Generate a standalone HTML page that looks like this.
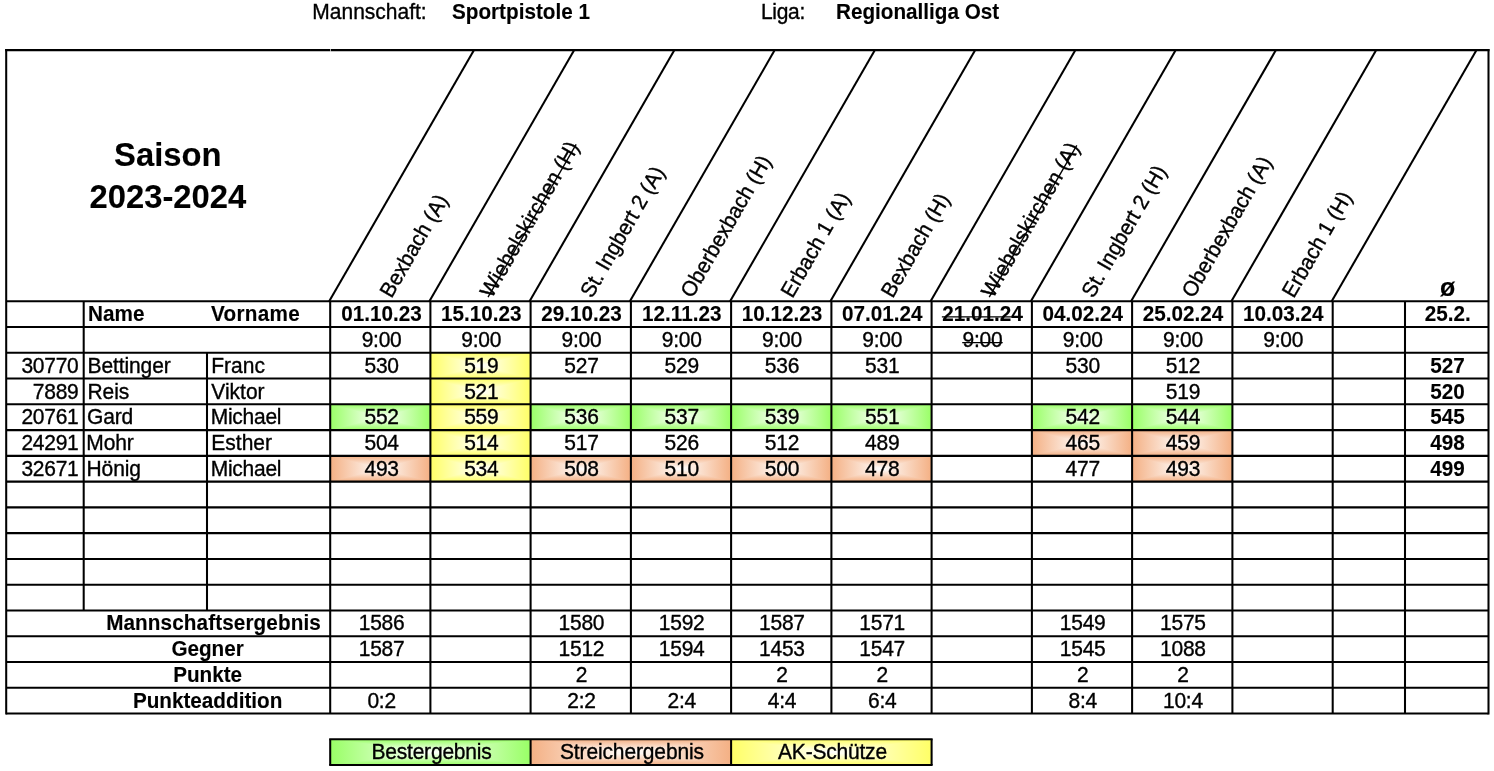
<!DOCTYPE html>
<html lang="de"><head><meta charset="utf-8"><title>Saison 2023-2024 – Sportpistole 1</title>
<style>
html,body{margin:0;padding:0;background:#fff;}
body{width:1494px;height:771px;overflow:hidden;}
svg{display:block;font-family:"Liberation Sans", Arial, sans-serif;fill:#000;will-change:transform;}
svg text{white-space:pre;}
</style></head><body>
<svg width="1494" height="771" viewBox="0 0 1494 771">
<defs>
<linearGradient id="gh" x1="0" y1="0" x2="1" y2="0"><stop offset="0" stop-color="#99ff66"/><stop offset="0.5" stop-color="#fff"/><stop offset="1" stop-color="#99ff66"/></linearGradient>
<linearGradient id="gt" x1="0" y1="0" x2="0" y2="1"><stop offset="0" stop-color="#99ff66"/><stop offset="1" stop-color="#fff"/></linearGradient>
<linearGradient id="gb" x1="0" y1="0" x2="0" y2="1"><stop offset="0" stop-color="#fff"/><stop offset="1" stop-color="#99ff66"/></linearGradient>
<linearGradient id="oh" x1="0" y1="0" x2="1" y2="0"><stop offset="0" stop-color="#f4b084"/><stop offset="0.5" stop-color="#fff"/><stop offset="1" stop-color="#f4b084"/></linearGradient>
<linearGradient id="ot" x1="0" y1="0" x2="0" y2="1"><stop offset="0" stop-color="#f4b084"/><stop offset="1" stop-color="#fff"/></linearGradient>
<linearGradient id="ob" x1="0" y1="0" x2="0" y2="1"><stop offset="0" stop-color="#fff"/><stop offset="1" stop-color="#f4b084"/></linearGradient>
<linearGradient id="yh" x1="0" y1="0" x2="1" y2="0"><stop offset="0" stop-color="#ffff66"/><stop offset="0.5" stop-color="#fff"/><stop offset="1" stop-color="#ffff66"/></linearGradient>
<linearGradient id="yt" x1="0" y1="0" x2="0" y2="1"><stop offset="0" stop-color="#ffff66"/><stop offset="1" stop-color="#fff"/></linearGradient>
<linearGradient id="yb" x1="0" y1="0" x2="0" y2="1"><stop offset="0" stop-color="#fff"/><stop offset="1" stop-color="#ffff66"/></linearGradient>
</defs>
<rect x="430.40" y="352.82" width="100.20" height="25.76" fill="url(#yh)"/>
<polygon points="430.40,352.82 480.50,365.70 530.60,352.82" fill="url(#yt)"/>
<polygon points="430.40,378.58 480.50,365.70 530.60,378.58" fill="url(#yb)"/>
<rect x="430.40" y="378.58" width="100.20" height="25.76" fill="url(#yh)"/>
<polygon points="430.40,378.58 480.50,391.46 530.60,378.58" fill="url(#yt)"/>
<polygon points="430.40,404.34 480.50,391.46 530.60,404.34" fill="url(#yb)"/>
<rect x="430.40" y="404.34" width="100.20" height="25.76" fill="url(#yh)"/>
<polygon points="430.40,404.34 480.50,417.22 530.60,404.34" fill="url(#yt)"/>
<polygon points="430.40,430.10 480.50,417.22 530.60,430.10" fill="url(#yb)"/>
<rect x="430.40" y="430.10" width="100.20" height="25.76" fill="url(#yh)"/>
<polygon points="430.40,430.10 480.50,442.98 530.60,430.10" fill="url(#yt)"/>
<polygon points="430.40,455.86 480.50,442.98 530.60,455.86" fill="url(#yb)"/>
<rect x="430.40" y="455.86" width="100.20" height="25.76" fill="url(#yh)"/>
<polygon points="430.40,455.86 480.50,468.74 530.60,455.86" fill="url(#yt)"/>
<polygon points="430.40,481.62 480.50,468.74 530.60,481.62" fill="url(#yb)"/>
<rect x="330.20" y="404.34" width="100.20" height="25.76" fill="url(#gh)"/>
<polygon points="330.20,404.34 380.30,417.22 430.40,404.34" fill="url(#gt)"/>
<polygon points="330.20,430.10 380.30,417.22 430.40,430.10" fill="url(#gb)"/>
<rect x="530.60" y="404.34" width="100.30" height="25.76" fill="url(#gh)"/>
<polygon points="530.60,404.34 580.75,417.22 630.90,404.34" fill="url(#gt)"/>
<polygon points="530.60,430.10 580.75,417.22 630.90,430.10" fill="url(#gb)"/>
<rect x="630.90" y="404.34" width="100.20" height="25.76" fill="url(#gh)"/>
<polygon points="630.90,404.34 681.00,417.22 731.10,404.34" fill="url(#gt)"/>
<polygon points="630.90,430.10 681.00,417.22 731.10,430.10" fill="url(#gb)"/>
<rect x="731.10" y="404.34" width="100.30" height="25.76" fill="url(#gh)"/>
<polygon points="731.10,404.34 781.25,417.22 831.40,404.34" fill="url(#gt)"/>
<polygon points="731.10,430.10 781.25,417.22 831.40,430.10" fill="url(#gb)"/>
<rect x="831.40" y="404.34" width="100.20" height="25.76" fill="url(#gh)"/>
<polygon points="831.40,404.34 881.50,417.22 931.60,404.34" fill="url(#gt)"/>
<polygon points="831.40,430.10 881.50,417.22 931.60,430.10" fill="url(#gb)"/>
<rect x="1031.90" y="404.34" width="100.20" height="25.76" fill="url(#gh)"/>
<polygon points="1031.90,404.34 1082.00,417.22 1132.10,404.34" fill="url(#gt)"/>
<polygon points="1031.90,430.10 1082.00,417.22 1132.10,430.10" fill="url(#gb)"/>
<rect x="1132.10" y="404.34" width="100.30" height="25.76" fill="url(#gh)"/>
<polygon points="1132.10,404.34 1182.25,417.22 1232.40,404.34" fill="url(#gt)"/>
<polygon points="1132.10,430.10 1182.25,417.22 1232.40,430.10" fill="url(#gb)"/>
<rect x="1031.90" y="430.10" width="100.20" height="25.76" fill="url(#oh)"/>
<polygon points="1031.90,430.10 1082.00,442.98 1132.10,430.10" fill="url(#ot)"/>
<polygon points="1031.90,455.86 1082.00,442.98 1132.10,455.86" fill="url(#ob)"/>
<rect x="1132.10" y="430.10" width="100.30" height="25.76" fill="url(#oh)"/>
<polygon points="1132.10,430.10 1182.25,442.98 1232.40,430.10" fill="url(#ot)"/>
<polygon points="1132.10,455.86 1182.25,442.98 1232.40,455.86" fill="url(#ob)"/>
<rect x="330.20" y="455.86" width="100.20" height="25.76" fill="url(#oh)"/>
<polygon points="330.20,455.86 380.30,468.74 430.40,455.86" fill="url(#ot)"/>
<polygon points="330.20,481.62 380.30,468.74 430.40,481.62" fill="url(#ob)"/>
<rect x="530.60" y="455.86" width="100.30" height="25.76" fill="url(#oh)"/>
<polygon points="530.60,455.86 580.75,468.74 630.90,455.86" fill="url(#ot)"/>
<polygon points="530.60,481.62 580.75,468.74 630.90,481.62" fill="url(#ob)"/>
<rect x="630.90" y="455.86" width="100.20" height="25.76" fill="url(#oh)"/>
<polygon points="630.90,455.86 681.00,468.74 731.10,455.86" fill="url(#ot)"/>
<polygon points="630.90,481.62 681.00,468.74 731.10,481.62" fill="url(#ob)"/>
<rect x="731.10" y="455.86" width="100.30" height="25.76" fill="url(#oh)"/>
<polygon points="731.10,455.86 781.25,468.74 831.40,455.86" fill="url(#ot)"/>
<polygon points="731.10,481.62 781.25,468.74 831.40,481.62" fill="url(#ob)"/>
<rect x="831.40" y="455.86" width="100.20" height="25.76" fill="url(#oh)"/>
<polygon points="831.40,455.86 881.50,468.74 931.60,455.86" fill="url(#ot)"/>
<polygon points="831.40,481.62 881.50,468.74 931.60,481.62" fill="url(#ob)"/>
<rect x="1132.10" y="455.86" width="100.30" height="25.76" fill="url(#oh)"/>
<polygon points="1132.10,455.86 1182.25,468.74 1232.40,455.86" fill="url(#ot)"/>
<polygon points="1132.10,481.62 1182.25,468.74 1232.40,481.62" fill="url(#ob)"/>
<rect x="330.20" y="739.22" width="200.40" height="25.76" fill="url(#gh)"/>
<polygon points="330.20,739.22 430.40,752.10 530.60,739.22" fill="url(#gt)"/>
<polygon points="330.20,764.98 430.40,752.10 530.60,764.98" fill="url(#gb)"/>
<rect x="530.60" y="739.22" width="200.50" height="25.76" fill="url(#oh)"/>
<polygon points="530.60,739.22 630.85,752.10 731.10,739.22" fill="url(#ot)"/>
<polygon points="530.60,764.98 630.85,752.10 731.10,764.98" fill="url(#ob)"/>
<rect x="731.10" y="739.22" width="200.50" height="25.76" fill="url(#yh)"/>
<polygon points="731.10,739.22 831.35,752.10 931.60,739.22" fill="url(#yt)"/>
<polygon points="731.10,764.98 831.35,752.10 931.60,764.98" fill="url(#yb)"/>
<line x1="6.20" y1="50.10" x2="1488.50" y2="50.10" stroke="#000" stroke-width="2.05" stroke-linecap="square"/>
<line x1="6.20" y1="50.10" x2="6.20" y2="713.46" stroke="#000" stroke-width="2.05" stroke-linecap="square"/>
<line x1="1488.50" y1="50.10" x2="1488.50" y2="713.46" stroke="#000" stroke-width="2.05" stroke-linecap="square"/>
<line x1="6.20" y1="301.30" x2="1488.50" y2="301.30" stroke="#000" stroke-width="2.05" stroke-linecap="butt"/>
<line x1="6.20" y1="327.06" x2="1488.50" y2="327.06" stroke="#000" stroke-width="2.05" stroke-linecap="butt"/>
<line x1="6.20" y1="352.82" x2="1488.50" y2="352.82" stroke="#000" stroke-width="2.05" stroke-linecap="butt"/>
<line x1="6.20" y1="378.58" x2="1488.50" y2="378.58" stroke="#000" stroke-width="2.05" stroke-linecap="butt"/>
<line x1="6.20" y1="404.34" x2="1488.50" y2="404.34" stroke="#000" stroke-width="2.05" stroke-linecap="butt"/>
<line x1="6.20" y1="430.10" x2="1488.50" y2="430.10" stroke="#000" stroke-width="2.05" stroke-linecap="butt"/>
<line x1="6.20" y1="455.86" x2="1488.50" y2="455.86" stroke="#000" stroke-width="2.05" stroke-linecap="butt"/>
<line x1="6.20" y1="481.62" x2="1488.50" y2="481.62" stroke="#000" stroke-width="2.05" stroke-linecap="butt"/>
<line x1="6.20" y1="507.38" x2="1488.50" y2="507.38" stroke="#000" stroke-width="2.05" stroke-linecap="butt"/>
<line x1="6.20" y1="533.14" x2="1488.50" y2="533.14" stroke="#000" stroke-width="2.05" stroke-linecap="butt"/>
<line x1="6.20" y1="558.90" x2="1488.50" y2="558.90" stroke="#000" stroke-width="2.05" stroke-linecap="butt"/>
<line x1="6.20" y1="584.66" x2="1488.50" y2="584.66" stroke="#000" stroke-width="2.05" stroke-linecap="butt"/>
<line x1="6.20" y1="610.42" x2="1488.50" y2="610.42" stroke="#000" stroke-width="2.05" stroke-linecap="butt"/>
<line x1="6.20" y1="636.18" x2="1488.50" y2="636.18" stroke="#000" stroke-width="2.05" stroke-linecap="butt"/>
<line x1="6.20" y1="661.94" x2="1488.50" y2="661.94" stroke="#000" stroke-width="2.05" stroke-linecap="butt"/>
<line x1="6.20" y1="687.70" x2="1488.50" y2="687.70" stroke="#000" stroke-width="2.05" stroke-linecap="butt"/>
<line x1="6.20" y1="713.46" x2="1488.50" y2="713.46" stroke="#000" stroke-width="2.05" stroke-linecap="butt"/>
<line x1="330.20" y1="301.30" x2="330.20" y2="713.46" stroke="#000" stroke-width="2.05" stroke-linecap="butt"/>
<line x1="430.40" y1="301.30" x2="430.40" y2="713.46" stroke="#000" stroke-width="2.05" stroke-linecap="butt"/>
<line x1="530.60" y1="301.30" x2="530.60" y2="713.46" stroke="#000" stroke-width="2.05" stroke-linecap="butt"/>
<line x1="630.90" y1="301.30" x2="630.90" y2="713.46" stroke="#000" stroke-width="2.05" stroke-linecap="butt"/>
<line x1="731.10" y1="301.30" x2="731.10" y2="713.46" stroke="#000" stroke-width="2.05" stroke-linecap="butt"/>
<line x1="831.40" y1="301.30" x2="831.40" y2="713.46" stroke="#000" stroke-width="2.05" stroke-linecap="butt"/>
<line x1="931.60" y1="301.30" x2="931.60" y2="713.46" stroke="#000" stroke-width="2.05" stroke-linecap="butt"/>
<line x1="1031.90" y1="301.30" x2="1031.90" y2="713.46" stroke="#000" stroke-width="2.05" stroke-linecap="butt"/>
<line x1="1132.10" y1="301.30" x2="1132.10" y2="713.46" stroke="#000" stroke-width="2.05" stroke-linecap="butt"/>
<line x1="1232.40" y1="301.30" x2="1232.40" y2="713.46" stroke="#000" stroke-width="2.05" stroke-linecap="butt"/>
<line x1="1332.70" y1="301.30" x2="1332.70" y2="713.46" stroke="#000" stroke-width="2.05" stroke-linecap="butt"/>
<line x1="1405.00" y1="301.30" x2="1405.00" y2="713.46" stroke="#000" stroke-width="2.05" stroke-linecap="butt"/>
<line x1="83.70" y1="301.30" x2="83.70" y2="610.42" stroke="#000" stroke-width="2.05" stroke-linecap="butt"/>
<line x1="207.00" y1="352.82" x2="207.00" y2="610.42" stroke="#000" stroke-width="2.05" stroke-linecap="butt"/>
<line x1="329.20" y1="301.30" x2="474.03" y2="50.10" stroke="#000" stroke-width="2.05"/>
<line x1="429.40" y1="301.30" x2="574.23" y2="50.10" stroke="#000" stroke-width="2.05"/>
<line x1="529.60" y1="301.30" x2="674.43" y2="50.10" stroke="#000" stroke-width="2.05"/>
<line x1="629.90" y1="301.30" x2="774.73" y2="50.10" stroke="#000" stroke-width="2.05"/>
<line x1="730.10" y1="301.30" x2="874.93" y2="50.10" stroke="#000" stroke-width="2.05"/>
<line x1="830.40" y1="301.30" x2="975.23" y2="50.10" stroke="#000" stroke-width="2.05"/>
<line x1="930.60" y1="301.30" x2="1075.43" y2="50.10" stroke="#000" stroke-width="2.05"/>
<line x1="1030.90" y1="301.30" x2="1175.73" y2="50.10" stroke="#000" stroke-width="2.05"/>
<line x1="1131.10" y1="301.30" x2="1275.93" y2="50.10" stroke="#000" stroke-width="2.05"/>
<line x1="1231.40" y1="301.30" x2="1376.23" y2="50.10" stroke="#000" stroke-width="2.05"/>
<line x1="1331.70" y1="301.30" x2="1476.53" y2="50.10" stroke="#000" stroke-width="2.05"/>
<line x1="330.20" y1="739.22" x2="931.60" y2="739.22" stroke="#000" stroke-width="2.05" stroke-linecap="square"/>
<line x1="330.20" y1="764.98" x2="931.60" y2="764.98" stroke="#000" stroke-width="2.05" stroke-linecap="square"/>
<line x1="330.20" y1="739.22" x2="330.20" y2="764.98" stroke="#000" stroke-width="2.05" stroke-linecap="butt"/>
<line x1="530.60" y1="739.22" x2="530.60" y2="764.98" stroke="#000" stroke-width="2.05" stroke-linecap="butt"/>
<line x1="731.10" y1="739.22" x2="731.10" y2="764.98" stroke="#000" stroke-width="2.05" stroke-linecap="butt"/>
<line x1="931.60" y1="739.22" x2="931.60" y2="764.98" stroke="#000" stroke-width="2.05" stroke-linecap="butt"/>
<rect x="330.1" y="48.5" width="0.8" height="3.2" fill="#fff" opacity="0.85"/>
<text text-anchor="start" style="font-size:21px;stroke:#000;stroke-width:0.35px;" transform="translate(312.30 18.80) scale(1 1.035)">Mannschaft:</text>
<text text-anchor="start" style="font-size:20.7px;font-weight:bold;stroke:#000;stroke-width:0.12px;" transform="translate(452.00 18.80) scale(1 1.035)">Sportpistole 1</text>
<text text-anchor="start" style="font-size:21px;letter-spacing:-0.3px;stroke:#000;stroke-width:0.35px;" transform="translate(761.00 18.80) scale(1 1.035)">Liga:</text>
<text text-anchor="start" style="font-size:20.7px;font-weight:bold;stroke:#000;stroke-width:0.12px;" transform="translate(836.00 18.80) scale(1 1.035)">Regionalliga Ost</text>
<text text-anchor="middle" style="font-size:32.8px;font-weight:bold;stroke:#000;stroke-width:0.12px;" transform="translate(167.80 165.90) scale(1 1.035)">Saison</text>
<text text-anchor="middle" style="font-size:32.8px;font-weight:bold;stroke:#000;stroke-width:0.12px;" transform="translate(167.90 207.70) scale(1 1.035)">2023-2024</text>
<text text-anchor="start" style="font-size:20.8px;stroke:#000;stroke-width:0.35px;" transform="translate(391.60 298.90) rotate(-60) scale(1 1.035)">Bexbach (A)</text>
<g transform="translate(491.80 298.90) rotate(-60)"><text text-anchor="start" style="font-size:20.8px;stroke:#000;stroke-width:0.35px;" transform="scale(1 1.035)">Wiebelskirchen (H)</text><line x1="-0.30" y1="-4.2" x2="175.99" y2="-4.2" stroke="#000" stroke-width="1.35"/></g>
<text text-anchor="start" style="font-size:20.8px;stroke:#000;stroke-width:0.35px;" transform="translate(592.00 298.90) rotate(-60) scale(1 1.035)">St. Ingbert 2 (A)</text>
<text text-anchor="start" style="font-size:20.8px;stroke:#000;stroke-width:0.35px;" transform="translate(692.30 298.90) rotate(-60) scale(1 1.035)">Oberbexbach (H)</text>
<text text-anchor="start" style="font-size:20.8px;stroke:#000;stroke-width:0.35px;" transform="translate(792.50 298.90) rotate(-60) scale(1 1.035)">Erbach 1 (A)</text>
<text text-anchor="start" style="font-size:20.8px;stroke:#000;stroke-width:0.35px;" transform="translate(892.80 298.90) rotate(-60) scale(1 1.035)">Bexbach (H)</text>
<g transform="translate(993.00 298.90) rotate(-60)"><text text-anchor="start" style="font-size:20.8px;stroke:#000;stroke-width:0.35px;" transform="scale(1 1.035)">Wiebelskirchen (A)</text><line x1="-0.30" y1="-4.2" x2="174.84" y2="-4.2" stroke="#000" stroke-width="1.35"/></g>
<text text-anchor="start" style="font-size:20.8px;stroke:#000;stroke-width:0.35px;" transform="translate(1093.30 298.90) rotate(-60) scale(1 1.035)">St. Ingbert 2 (H)</text>
<text text-anchor="start" style="font-size:20.8px;stroke:#000;stroke-width:0.35px;" transform="translate(1193.50 298.90) rotate(-60) scale(1 1.035)">Oberbexbach (A)</text>
<text text-anchor="start" style="font-size:20.8px;stroke:#000;stroke-width:0.35px;" transform="translate(1293.80 298.90) rotate(-60) scale(1 1.035)">Erbach 1 (H)</text>
<text text-anchor="middle" style="font-size:25px;font-weight:bold;stroke:#000;stroke-width:0.12px;" transform="translate(1447.75 295.60) scale(1 1.035)">ø</text>
<text text-anchor="start" style="font-size:20.7px;font-weight:bold;letter-spacing:0.1px;stroke:#000;stroke-width:0.12px;" transform="translate(87.90 321.06) scale(1 1.035)">Name</text>
<text text-anchor="start" style="font-size:20.7px;font-weight:bold;letter-spacing:0.3px;stroke:#000;stroke-width:0.12px;" transform="translate(211.00 321.06) scale(1 1.035)">Vorname</text>
<text text-anchor="middle" style="font-size:20.7px;font-weight:bold;stroke:#000;stroke-width:0.12px;" transform="translate(381.60 321.06) scale(1 1.035)">01.10.23</text>
<text text-anchor="middle" style="font-size:21px;letter-spacing:-0.25px;stroke:#000;stroke-width:0.35px;" transform="translate(381.60 346.82) scale(1 1.035)">9:00</text>
<text text-anchor="middle" style="font-size:20.7px;font-weight:bold;stroke:#000;stroke-width:0.12px;" transform="translate(481.30 321.06) scale(1 1.035)">15.10.23</text>
<text text-anchor="middle" style="font-size:21px;letter-spacing:-0.25px;stroke:#000;stroke-width:0.35px;" transform="translate(481.30 346.82) scale(1 1.035)">9:00</text>
<text text-anchor="middle" style="font-size:20.7px;font-weight:bold;stroke:#000;stroke-width:0.12px;" transform="translate(581.45 321.06) scale(1 1.035)">29.10.23</text>
<text text-anchor="middle" style="font-size:21px;letter-spacing:-0.25px;stroke:#000;stroke-width:0.35px;" transform="translate(581.45 346.82) scale(1 1.035)">9:00</text>
<text text-anchor="middle" style="font-size:20.7px;font-weight:bold;stroke:#000;stroke-width:0.12px;" transform="translate(681.70 321.06) scale(1 1.035)">12.11.23</text>
<text text-anchor="middle" style="font-size:21px;letter-spacing:-0.25px;stroke:#000;stroke-width:0.35px;" transform="translate(681.70 346.82) scale(1 1.035)">9:00</text>
<text text-anchor="middle" style="font-size:20.7px;font-weight:bold;stroke:#000;stroke-width:0.12px;" transform="translate(781.95 321.06) scale(1 1.035)">10.12.23</text>
<text text-anchor="middle" style="font-size:21px;letter-spacing:-0.25px;stroke:#000;stroke-width:0.35px;" transform="translate(781.95 346.82) scale(1 1.035)">9:00</text>
<text text-anchor="middle" style="font-size:20.7px;font-weight:bold;stroke:#000;stroke-width:0.12px;" transform="translate(882.20 321.06) scale(1 1.035)">07.01.24</text>
<text text-anchor="middle" style="font-size:21px;letter-spacing:-0.25px;stroke:#000;stroke-width:0.35px;" transform="translate(882.20 346.82) scale(1 1.035)">9:00</text>
<g transform="translate(982.45 321.06)"><text text-anchor="middle" style="font-size:20.7px;font-weight:bold;stroke:#000;stroke-width:0.12px;" transform="scale(1 1.035)">21.01.24</text><line x1="-40.59" y1="-4.2" x2="40.59" y2="-4.2" stroke="#000" stroke-width="1.15"/></g>
<g transform="translate(982.45 346.82)"><text text-anchor="middle" style="font-size:21px;letter-spacing:-0.25px;stroke:#000;stroke-width:0.35px;" transform="scale(1 1.035)">9:00</text><line x1="-20.24" y1="-4.2" x2="20.24" y2="-4.2" stroke="#000" stroke-width="1.15"/></g>
<text text-anchor="middle" style="font-size:20.7px;font-weight:bold;stroke:#000;stroke-width:0.12px;" transform="translate(1082.70 321.06) scale(1 1.035)">04.02.24</text>
<text text-anchor="middle" style="font-size:21px;letter-spacing:-0.25px;stroke:#000;stroke-width:0.35px;" transform="translate(1082.70 346.82) scale(1 1.035)">9:00</text>
<text text-anchor="middle" style="font-size:20.7px;font-weight:bold;stroke:#000;stroke-width:0.12px;" transform="translate(1182.95 321.06) scale(1 1.035)">25.02.24</text>
<text text-anchor="middle" style="font-size:21px;letter-spacing:-0.25px;stroke:#000;stroke-width:0.35px;" transform="translate(1182.95 346.82) scale(1 1.035)">9:00</text>
<text text-anchor="middle" style="font-size:20.7px;font-weight:bold;stroke:#000;stroke-width:0.12px;" transform="translate(1283.25 321.06) scale(1 1.035)">10.03.24</text>
<text text-anchor="middle" style="font-size:21px;letter-spacing:-0.25px;stroke:#000;stroke-width:0.35px;" transform="translate(1283.25 346.82) scale(1 1.035)">9:00</text>
<text text-anchor="middle" style="font-size:20.7px;font-weight:bold;stroke:#000;stroke-width:0.12px;" transform="translate(1447.65 321.06) scale(1 1.035)">25.2.</text>
<text text-anchor="end" style="font-size:21px;letter-spacing:-0.25px;stroke:#000;stroke-width:0.35px;" transform="translate(78.50 372.58) scale(1 1.035)">30770</text>
<text text-anchor="start" style="font-size:21px;letter-spacing:-0.1px;stroke:#000;stroke-width:0.35px;" transform="translate(87.50 372.58) scale(1 1.035)">Bettinger</text>
<text text-anchor="start" style="font-size:21px;stroke:#000;stroke-width:0.35px;" transform="translate(211.30 372.58) scale(1 1.035)">Franc</text>
<text text-anchor="middle" style="font-size:21px;letter-spacing:-0.25px;stroke:#000;stroke-width:0.35px;" transform="translate(381.60 372.58) scale(1 1.035)">530</text>
<text text-anchor="middle" style="font-size:21px;letter-spacing:-0.25px;stroke:#000;stroke-width:0.35px;" transform="translate(481.30 372.58) scale(1 1.035)">519</text>
<text text-anchor="middle" style="font-size:21px;letter-spacing:-0.25px;stroke:#000;stroke-width:0.35px;" transform="translate(581.45 372.58) scale(1 1.035)">527</text>
<text text-anchor="middle" style="font-size:21px;letter-spacing:-0.25px;stroke:#000;stroke-width:0.35px;" transform="translate(681.70 372.58) scale(1 1.035)">529</text>
<text text-anchor="middle" style="font-size:21px;letter-spacing:-0.25px;stroke:#000;stroke-width:0.35px;" transform="translate(781.95 372.58) scale(1 1.035)">536</text>
<text text-anchor="middle" style="font-size:21px;letter-spacing:-0.25px;stroke:#000;stroke-width:0.35px;" transform="translate(882.20 372.58) scale(1 1.035)">531</text>
<text text-anchor="middle" style="font-size:21px;letter-spacing:-0.25px;stroke:#000;stroke-width:0.35px;" transform="translate(1082.70 372.58) scale(1 1.035)">530</text>
<text text-anchor="middle" style="font-size:21px;letter-spacing:-0.25px;stroke:#000;stroke-width:0.35px;" transform="translate(1182.95 372.58) scale(1 1.035)">512</text>
<text text-anchor="middle" style="font-size:20.7px;font-weight:bold;stroke:#000;stroke-width:0.12px;" transform="translate(1447.55 372.58) scale(1 1.035)">527</text>
<text text-anchor="end" style="font-size:21px;letter-spacing:-0.25px;stroke:#000;stroke-width:0.35px;" transform="translate(78.50 398.94) scale(1 1.035)">7889</text>
<text text-anchor="start" style="font-size:21px;letter-spacing:-0.1px;stroke:#000;stroke-width:0.35px;" transform="translate(87.50 398.94) scale(1 1.035)">Reis</text>
<text text-anchor="start" style="font-size:21px;stroke:#000;stroke-width:0.35px;" transform="translate(211.30 398.94) scale(1 1.035)">Viktor</text>
<text text-anchor="middle" style="font-size:21px;letter-spacing:-0.25px;stroke:#000;stroke-width:0.35px;" transform="translate(481.30 398.94) scale(1 1.035)">521</text>
<text text-anchor="middle" style="font-size:21px;letter-spacing:-0.25px;stroke:#000;stroke-width:0.35px;" transform="translate(1182.95 398.94) scale(1 1.035)">519</text>
<text text-anchor="middle" style="font-size:20.7px;font-weight:bold;stroke:#000;stroke-width:0.12px;" transform="translate(1447.55 398.94) scale(1 1.035)">520</text>
<text text-anchor="end" style="font-size:21px;letter-spacing:-0.25px;stroke:#000;stroke-width:0.35px;" transform="translate(78.50 424.10) scale(1 1.035)">20761</text>
<text text-anchor="start" style="font-size:21px;letter-spacing:-0.1px;stroke:#000;stroke-width:0.35px;" transform="translate(86.90 424.10) scale(1 1.035)">Gard</text>
<text text-anchor="start" style="font-size:21px;letter-spacing:-0.25px;stroke:#000;stroke-width:0.35px;" transform="translate(210.70 424.10) scale(1 1.035)">Michael</text>
<text text-anchor="middle" style="font-size:21px;letter-spacing:-0.25px;stroke:#000;stroke-width:0.35px;" transform="translate(381.60 424.10) scale(1 1.035)">552</text>
<text text-anchor="middle" style="font-size:21px;letter-spacing:-0.25px;stroke:#000;stroke-width:0.35px;" transform="translate(481.30 424.10) scale(1 1.035)">559</text>
<text text-anchor="middle" style="font-size:21px;letter-spacing:-0.25px;stroke:#000;stroke-width:0.35px;" transform="translate(581.45 424.10) scale(1 1.035)">536</text>
<text text-anchor="middle" style="font-size:21px;letter-spacing:-0.25px;stroke:#000;stroke-width:0.35px;" transform="translate(681.70 424.10) scale(1 1.035)">537</text>
<text text-anchor="middle" style="font-size:21px;letter-spacing:-0.25px;stroke:#000;stroke-width:0.35px;" transform="translate(781.95 424.10) scale(1 1.035)">539</text>
<text text-anchor="middle" style="font-size:21px;letter-spacing:-0.25px;stroke:#000;stroke-width:0.35px;" transform="translate(882.20 424.10) scale(1 1.035)">551</text>
<text text-anchor="middle" style="font-size:21px;letter-spacing:-0.25px;stroke:#000;stroke-width:0.35px;" transform="translate(1082.70 424.10) scale(1 1.035)">542</text>
<text text-anchor="middle" style="font-size:21px;letter-spacing:-0.25px;stroke:#000;stroke-width:0.35px;" transform="translate(1182.95 424.10) scale(1 1.035)">544</text>
<text text-anchor="middle" style="font-size:20.7px;font-weight:bold;stroke:#000;stroke-width:0.12px;" transform="translate(1447.55 424.10) scale(1 1.035)">545</text>
<text text-anchor="end" style="font-size:21px;letter-spacing:-0.25px;stroke:#000;stroke-width:0.35px;" transform="translate(78.50 449.86) scale(1 1.035)">24291</text>
<text text-anchor="start" style="font-size:21px;letter-spacing:-0.1px;stroke:#000;stroke-width:0.35px;" transform="translate(86.30 449.86) scale(1 1.035)">Mohr</text>
<text text-anchor="start" style="font-size:21px;stroke:#000;stroke-width:0.35px;" transform="translate(211.30 449.86) scale(1 1.035)">Esther</text>
<text text-anchor="middle" style="font-size:21px;letter-spacing:-0.25px;stroke:#000;stroke-width:0.35px;" transform="translate(381.60 449.86) scale(1 1.035)">504</text>
<text text-anchor="middle" style="font-size:21px;letter-spacing:-0.25px;stroke:#000;stroke-width:0.35px;" transform="translate(481.30 449.86) scale(1 1.035)">514</text>
<text text-anchor="middle" style="font-size:21px;letter-spacing:-0.25px;stroke:#000;stroke-width:0.35px;" transform="translate(581.45 449.86) scale(1 1.035)">517</text>
<text text-anchor="middle" style="font-size:21px;letter-spacing:-0.25px;stroke:#000;stroke-width:0.35px;" transform="translate(681.70 449.86) scale(1 1.035)">526</text>
<text text-anchor="middle" style="font-size:21px;letter-spacing:-0.25px;stroke:#000;stroke-width:0.35px;" transform="translate(781.95 449.86) scale(1 1.035)">512</text>
<text text-anchor="middle" style="font-size:21px;letter-spacing:-0.25px;stroke:#000;stroke-width:0.35px;" transform="translate(882.20 449.86) scale(1 1.035)">489</text>
<text text-anchor="middle" style="font-size:21px;letter-spacing:-0.25px;stroke:#000;stroke-width:0.35px;" transform="translate(1082.70 449.86) scale(1 1.035)">465</text>
<text text-anchor="middle" style="font-size:21px;letter-spacing:-0.25px;stroke:#000;stroke-width:0.35px;" transform="translate(1182.95 449.86) scale(1 1.035)">459</text>
<text text-anchor="middle" style="font-size:20.7px;font-weight:bold;stroke:#000;stroke-width:0.12px;" transform="translate(1447.55 449.86) scale(1 1.035)">498</text>
<text text-anchor="end" style="font-size:21px;letter-spacing:-0.25px;stroke:#000;stroke-width:0.35px;" transform="translate(78.50 475.62) scale(1 1.035)">32671</text>
<text text-anchor="start" style="font-size:21px;letter-spacing:-0.1px;stroke:#000;stroke-width:0.35px;" transform="translate(86.50 475.62) scale(1 1.035)">Hönig</text>
<text text-anchor="start" style="font-size:21px;letter-spacing:-0.25px;stroke:#000;stroke-width:0.35px;" transform="translate(210.70 475.62) scale(1 1.035)">Michael</text>
<text text-anchor="middle" style="font-size:21px;letter-spacing:-0.25px;stroke:#000;stroke-width:0.35px;" transform="translate(381.60 475.62) scale(1 1.035)">493</text>
<text text-anchor="middle" style="font-size:21px;letter-spacing:-0.25px;stroke:#000;stroke-width:0.35px;" transform="translate(481.30 475.62) scale(1 1.035)">534</text>
<text text-anchor="middle" style="font-size:21px;letter-spacing:-0.25px;stroke:#000;stroke-width:0.35px;" transform="translate(581.45 475.62) scale(1 1.035)">508</text>
<text text-anchor="middle" style="font-size:21px;letter-spacing:-0.25px;stroke:#000;stroke-width:0.35px;" transform="translate(681.70 475.62) scale(1 1.035)">510</text>
<text text-anchor="middle" style="font-size:21px;letter-spacing:-0.25px;stroke:#000;stroke-width:0.35px;" transform="translate(781.95 475.62) scale(1 1.035)">500</text>
<text text-anchor="middle" style="font-size:21px;letter-spacing:-0.25px;stroke:#000;stroke-width:0.35px;" transform="translate(882.20 475.62) scale(1 1.035)">478</text>
<text text-anchor="middle" style="font-size:21px;letter-spacing:-0.25px;stroke:#000;stroke-width:0.35px;" transform="translate(1082.70 475.62) scale(1 1.035)">477</text>
<text text-anchor="middle" style="font-size:21px;letter-spacing:-0.25px;stroke:#000;stroke-width:0.35px;" transform="translate(1182.95 475.62) scale(1 1.035)">493</text>
<text text-anchor="middle" style="font-size:20.7px;font-weight:bold;stroke:#000;stroke-width:0.12px;" transform="translate(1447.55 475.62) scale(1 1.035)">499</text>
<text text-anchor="middle" style="font-size:20.7px;font-weight:bold;letter-spacing:0.11px;stroke:#000;stroke-width:0.12px;" transform="translate(213.50 630.18) scale(1 1.035)">Mannschaftsergebnis</text>
<text text-anchor="middle" style="font-size:21px;letter-spacing:-0.25px;stroke:#000;stroke-width:0.35px;" transform="translate(381.60 630.18) scale(1 1.035)">1586</text>
<text text-anchor="middle" style="font-size:21px;letter-spacing:-0.25px;stroke:#000;stroke-width:0.35px;" transform="translate(581.45 630.18) scale(1 1.035)">1580</text>
<text text-anchor="middle" style="font-size:21px;letter-spacing:-0.25px;stroke:#000;stroke-width:0.35px;" transform="translate(681.70 630.18) scale(1 1.035)">1592</text>
<text text-anchor="middle" style="font-size:21px;letter-spacing:-0.25px;stroke:#000;stroke-width:0.35px;" transform="translate(781.95 630.18) scale(1 1.035)">1587</text>
<text text-anchor="middle" style="font-size:21px;letter-spacing:-0.25px;stroke:#000;stroke-width:0.35px;" transform="translate(882.20 630.18) scale(1 1.035)">1571</text>
<text text-anchor="middle" style="font-size:21px;letter-spacing:-0.25px;stroke:#000;stroke-width:0.35px;" transform="translate(1082.70 630.18) scale(1 1.035)">1549</text>
<text text-anchor="middle" style="font-size:21px;letter-spacing:-0.25px;stroke:#000;stroke-width:0.35px;" transform="translate(1182.95 630.18) scale(1 1.035)">1575</text>
<text text-anchor="middle" style="font-size:20.7px;font-weight:bold;stroke:#000;stroke-width:0.12px;" transform="translate(207.60 655.94) scale(1 1.035)">Gegner</text>
<text text-anchor="middle" style="font-size:21px;letter-spacing:-0.25px;stroke:#000;stroke-width:0.35px;" transform="translate(381.60 655.94) scale(1 1.035)">1587</text>
<text text-anchor="middle" style="font-size:21px;letter-spacing:-0.25px;stroke:#000;stroke-width:0.35px;" transform="translate(581.45 655.94) scale(1 1.035)">1512</text>
<text text-anchor="middle" style="font-size:21px;letter-spacing:-0.25px;stroke:#000;stroke-width:0.35px;" transform="translate(681.70 655.94) scale(1 1.035)">1594</text>
<text text-anchor="middle" style="font-size:21px;letter-spacing:-0.25px;stroke:#000;stroke-width:0.35px;" transform="translate(781.95 655.94) scale(1 1.035)">1453</text>
<text text-anchor="middle" style="font-size:21px;letter-spacing:-0.25px;stroke:#000;stroke-width:0.35px;" transform="translate(882.20 655.94) scale(1 1.035)">1547</text>
<text text-anchor="middle" style="font-size:21px;letter-spacing:-0.25px;stroke:#000;stroke-width:0.35px;" transform="translate(1082.70 655.94) scale(1 1.035)">1545</text>
<text text-anchor="middle" style="font-size:21px;letter-spacing:-0.25px;stroke:#000;stroke-width:0.35px;" transform="translate(1182.95 655.94) scale(1 1.035)">1088</text>
<text text-anchor="middle" style="font-size:20.7px;font-weight:bold;stroke:#000;stroke-width:0.12px;" transform="translate(207.60 681.70) scale(1 1.035)">Punkte</text>
<text text-anchor="middle" style="font-size:21px;letter-spacing:-0.25px;stroke:#000;stroke-width:0.35px;" transform="translate(581.45 681.70) scale(1 1.035)">2</text>
<text text-anchor="middle" style="font-size:21px;letter-spacing:-0.25px;stroke:#000;stroke-width:0.35px;" transform="translate(781.95 681.70) scale(1 1.035)">2</text>
<text text-anchor="middle" style="font-size:21px;letter-spacing:-0.25px;stroke:#000;stroke-width:0.35px;" transform="translate(882.20 681.70) scale(1 1.035)">2</text>
<text text-anchor="middle" style="font-size:21px;letter-spacing:-0.25px;stroke:#000;stroke-width:0.35px;" transform="translate(1082.70 681.70) scale(1 1.035)">2</text>
<text text-anchor="middle" style="font-size:21px;letter-spacing:-0.25px;stroke:#000;stroke-width:0.35px;" transform="translate(1182.95 681.70) scale(1 1.035)">2</text>
<text text-anchor="middle" style="font-size:20.7px;font-weight:bold;stroke:#000;stroke-width:0.12px;" transform="translate(207.60 708.46) scale(1 1.035)">Punkteaddition</text>
<text text-anchor="middle" style="font-size:21px;letter-spacing:-0.25px;stroke:#000;stroke-width:0.35px;" transform="translate(381.60 708.46) scale(1 1.035)">0:2</text>
<text text-anchor="middle" style="font-size:21px;letter-spacing:-0.25px;stroke:#000;stroke-width:0.35px;" transform="translate(581.45 708.46) scale(1 1.035)">2:2</text>
<text text-anchor="middle" style="font-size:21px;letter-spacing:-0.25px;stroke:#000;stroke-width:0.35px;" transform="translate(681.70 708.46) scale(1 1.035)">2:4</text>
<text text-anchor="middle" style="font-size:21px;letter-spacing:-0.25px;stroke:#000;stroke-width:0.35px;" transform="translate(781.95 708.46) scale(1 1.035)">4:4</text>
<text text-anchor="middle" style="font-size:21px;letter-spacing:-0.25px;stroke:#000;stroke-width:0.35px;" transform="translate(882.20 708.46) scale(1 1.035)">6:4</text>
<text text-anchor="middle" style="font-size:21px;letter-spacing:-0.25px;stroke:#000;stroke-width:0.35px;" transform="translate(1082.70 708.46) scale(1 1.035)">8:4</text>
<text text-anchor="middle" style="font-size:21px;letter-spacing:-0.25px;stroke:#000;stroke-width:0.35px;" transform="translate(1182.95 708.46) scale(1 1.035)">10:4</text>
<text text-anchor="middle" style="font-size:21px;letter-spacing:-0.2px;stroke:#000;stroke-width:0.35px;" transform="translate(431.50 759.48) scale(1 1.035)">Bestergebnis</text>
<text text-anchor="middle" style="font-size:21px;letter-spacing:-0.13px;stroke:#000;stroke-width:0.35px;" transform="translate(631.95 759.48) scale(1 1.035)">Streichergebnis</text>
<text text-anchor="middle" style="font-size:21px;letter-spacing:-0.2px;stroke:#000;stroke-width:0.35px;" transform="translate(832.45 759.48) scale(1 1.035)">AK-Schütze</text>
</svg>
</body></html>
